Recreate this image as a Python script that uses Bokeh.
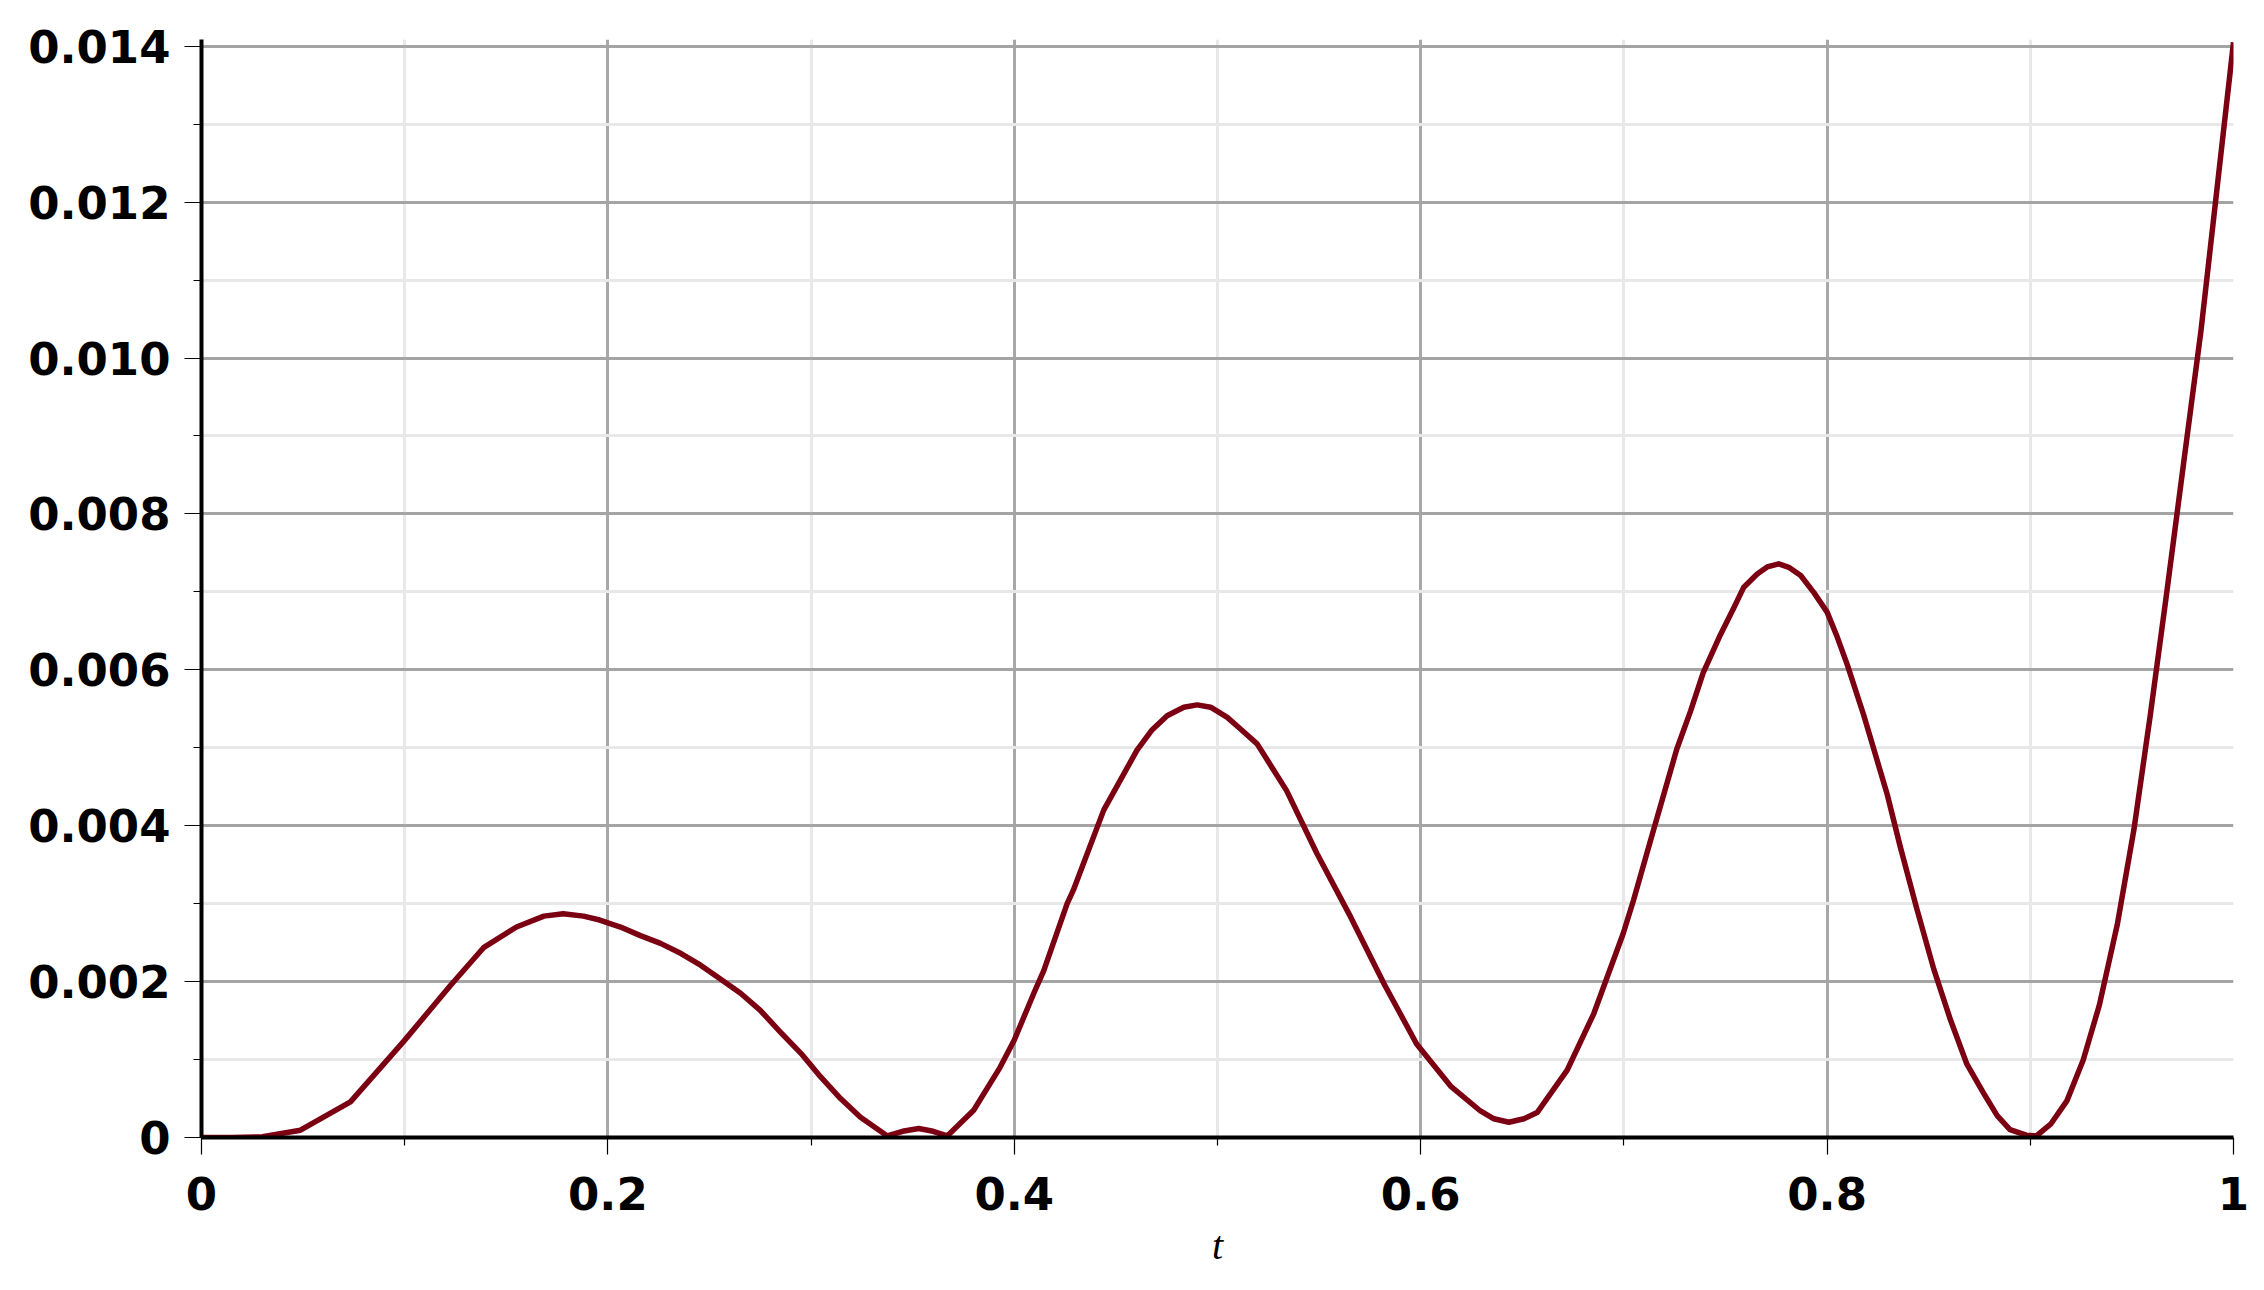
from bokeh.plotting import figure
from bokeh.models import FixedTicker, ColumnDataSource
from bokeh.embed import file_html
from bokeh.resources import INLINE

# ---- data ----
t_vals = [0.0, 0.015, 0.03, 0.0487, 0.0733, 0.0994, 0.1225, 0.139, 0.155, 0.1685, 0.178, 0.188,
          0.196, 0.2062, 0.216, 0.2259, 0.236, 0.2456, 0.255, 0.2653, 0.275, 0.285, 0.295, 0.3046,
          0.3145, 0.3243, 0.3375, 0.345, 0.353, 0.36,
          0.367, 0.38, 0.393, 0.4, 0.4096, 0.4145, 0.426, 0.429, 0.444, 0.4604, 0.4675, 0.4752,
          0.4834, 0.49, 0.4966, 0.5048, 0.5113, 0.5195, 0.534, 0.549, 0.5655, 0.582, 0.598, 0.6147, 0.6294,
          0.636, 0.6434, 0.6508, 0.6573, 0.672, 0.6852, 0.6997, 0.7048, 0.713, 0.726, 0.7328, 0.739,
          0.7475, 0.754, 0.759, 0.7656,
          0.7705, 0.7762, 0.7815, 0.787, 0.7935, 0.8, 0.805, 0.81, 0.818, 0.823, 0.8296, 0.8361,
          0.8443, 0.8525, 0.8607, 0.8688, 0.877, 0.8837, 0.89, 0.898,
          0.903, 0.91, 0.918, 0.926, 0.934, 0.9428, 0.951, 0.959, 0.967, 0.9755, 0.984, 1.0]
y_vals = [0.0, 0.0, 0.00001, 0.000094, 0.000457, 0.00123, 0.00195, 0.00244, 0.0027, 0.00284, 0.00287, 0.00284,
          0.00279, 0.0027, 0.00259, 0.00249, 0.00236, 0.00221, 0.00204, 0.00185, 0.00163, 0.00135, 0.00108, 0.00078,
          0.0005, 0.00026, 0.00002, 0.00008, 0.000115, 0.00008,
          0.00002, 0.00035, 0.0009, 0.00125, 0.00185, 0.00214, 0.0030, 0.00317, 0.0042, 0.00497, 0.00522, 0.00541,
          0.00552, 0.00555, 0.00552, 0.00539, 0.00524, 0.00505, 0.00445, 0.00364, 0.00283, 0.00197, 0.0012, 0.00066, 0.00034,
          0.00024, 0.000195, 0.00024, 0.00032, 0.00086, 0.00159, 0.00262, 0.00305, 0.0038, 0.00498, 0.00547, 0.00596,
          0.00645, 0.00679, 0.00706, 0.00723,
          0.00732, 0.00736, 0.00731, 0.00721, 0.00699, 0.00674, 0.00642, 0.00606, 0.00542, 0.00498, 0.0044, 0.00372,
          0.00292, 0.00216, 0.00151, 0.00094, 0.00057, 0.00028, 0.0001, 0.00003,
          0.00002, 0.00017, 0.00047, 0.00099, 0.0017, 0.00273, 0.00395, 0.00541, 0.00696, 0.00866, 0.01035, 0.01405]

x_ticks = [0, 0.2, 0.4, 0.6, 0.8, 1.0]
x_tick_labels = ["0", "0.2", "0.4", "0.6", "0.8", "1"]
x_minor = [0.1, 0.3, 0.5, 0.7, 0.9]
y_ticks = [0, 0.002, 0.004, 0.006, 0.008, 0.010, 0.012, 0.014]
y_tick_labels = ["0", "0.002", "0.004", "0.006", "0.008", "0.010", "0.012", "0.014"]
y_minor = [0.001, 0.003, 0.005, 0.007, 0.009, 0.011, 0.013]

src = ColumnDataSource(data=dict(t=t_vals, y=y_vals))

p = figure(width=2260, height=1286, output_backend="svg", toolbar_location=None,
           x_range=(0, 1), y_range=(0, 0.014086),
           min_border_left=201, min_border_right=27, min_border_top=39, min_border_bottom=149)
p.outline_line_color = None
p.background_fill_color = "white"
p.border_fill_color = "white"

p.line("t", "y", source=src, line_color="#7a0012", line_width=5.5, line_join="round")

p.xaxis.ticker = FixedTicker(ticks=x_ticks, minor_ticks=x_minor)
p.yaxis.ticker = FixedTicker(ticks=y_ticks, minor_ticks=y_minor)
p.xaxis.major_label_overrides = {k: v for k, v in zip(x_ticks, x_tick_labels)}
p.yaxis.major_label_overrides = {k: v for k, v in zip(y_ticks, y_tick_labels)}

for ax in (p.xaxis[0], p.yaxis[0]):
    ax.axis_line_color = "black"
    ax.axis_line_width = 4
    ax.major_tick_line_color = "black"
    ax.minor_tick_line_color = "black"
    ax.major_tick_line_width = 1.2
    ax.minor_tick_line_width = 1.2
    ax.major_tick_in = 0
    ax.minor_tick_in = 0
    ax.major_tick_out = 17
    ax.minor_tick_out = 8
    ax.major_label_text_font = "DejaVu Sans"
    ax.major_label_text_font_style = "bold"
    ax.major_label_text_font_size = "45px"
    ax.major_label_text_color = "black"

p.yaxis.major_label_standoff = 14
p.xaxis.major_label_standoff = 22
p.xaxis.axis_label = "t"
p.xaxis.axis_label_text_font = "Liberation Serif"
p.xaxis.axis_label_text_font_style = "italic"
p.xaxis.axis_label_text_font_size = "40px"
p.xaxis.axis_label_text_color = "black"
p.xaxis.axis_label_standoff = 10

p.xgrid.grid_line_color = "#a8a8a8"
p.ygrid.grid_line_color = "#a4a4a4"
p.xgrid.grid_line_width = 3
p.ygrid.grid_line_width = 3
p.xgrid.minor_grid_line_color = "#e8e8e8"
p.ygrid.minor_grid_line_color = "#e8e8e8"
p.xgrid.minor_grid_line_width = 3
p.ygrid.minor_grid_line_width = 3
p.xgrid.level = "underlay"
p.ygrid.level = "underlay"

open("out.html", "w").write(file_html(p, INLINE))
